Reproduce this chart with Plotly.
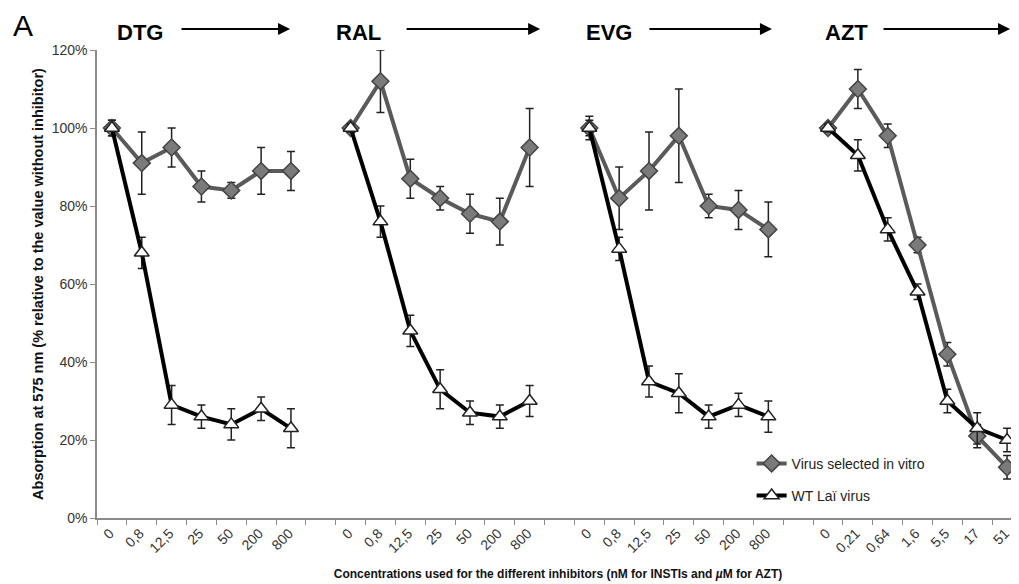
import plotly.graph_objects as go

# ---- data ----
groups = ["DTG", "RAL", "EVG", "AZT"]
conc_insti = ["0", "0,8", "12,5", "25", "50", "200", "800"]
conc_azt = ["0", "0,21", "0,64", "1,6", "5,5", "17", "51"]
tick_groups = [conc_insti, conc_insti, conc_insti, conc_azt]

sel_dtg = [100, 91, 95, 85, 84, 89, 89]
sel_dtg_err = [2, 8, 5, 4, 2, 6, 5]
sel_ral = [100, 112, 87, 82, 78, 76, 95]
sel_ral_err = [1, 8, 5, 3, 5, 6, 10]
sel_evg = [100, 82, 89, 98, 80, 79, 74]
sel_evg_err = [3, 8, 10, 12, 3, 5, 7]
sel_azt = [100, 110, 98, 70, 42, 21, 13]
sel_azt_err = [1, 5, 3, 2, 3, 3, 3]

wt_dtg = [100, 68, 29, 26, 24, 28, 23]
wt_dtg_err = [2, 4, 5, 3, 4, 3, 5]
wt_ral = [100, 76, 48, 33, 27, 26, 30]
wt_ral_err = [1, 4, 4, 5, 3, 3, 4]
wt_evg = [100, 69, 35, 32, 26, 29, 26]
wt_evg_err = [2, 3, 4, 5, 3, 3, 4]
wt_azt = [100, 93, 74, 58, 30, 23, 20]
wt_azt_err = [1, 4, 3, 2, 3, 4, 3]

sel_all = [sel_dtg, sel_ral, sel_evg, sel_azt]
sel_err_all = [sel_dtg_err, sel_ral_err, sel_evg_err, sel_azt_err]
wt_all = [wt_dtg, wt_ral, wt_evg, wt_azt]
wt_err_all = [wt_dtg_err, wt_ral_err, wt_evg_err, wt_azt_err]

# build positions: 7 points per group + 1 empty slot between groups
slot = 8
xs, sel_y, sel_e, wt_y, wt_e = [], [], [], [], []
tickvals, ticktext = [], []
for g in range(4):
    for i in range(7):
        x = g * slot + i
        xs.append(x)
        sel_y.append(sel_all[g][i]); sel_e.append(sel_err_all[g][i])
        wt_y.append(wt_all[g][i]); wt_e.append(wt_err_all[g][i])
        tickvals.append(x); ticktext.append(tick_groups[g][i])
    if g < 3:
        xs.append(g * slot + 7)
        sel_y.append(None); sel_e.append(None)
        wt_y.append(None); wt_e.append(None)

FONT = "Liberation Sans, Arial, Helvetica, sans-serif"

fig = go.Figure()
fig.add_trace(go.Scatter(
    x=xs, y=sel_y, mode="lines+markers", name="Virus selected in vitro",
    legendgroup="a",
    line=dict(color="#5a5a5a", width=4),
    marker=dict(symbol="diamond", size=13, color="#7a7a7a",
                line=dict(color="#444444", width=1.5)),
    error_y=dict(type="data", array=sel_e, visible=True, color="#222222",
                 thickness=1.5, width=4),
    connectgaps=False, cliponaxis=False,
))
fig.add_trace(go.Scatter(
    x=xs, y=wt_y, mode="lines+markers", name="WT Laï virus",
    legendgroup="b",
    line=dict(color="#000000", width=4),
    marker=dict(symbol="triangle-up", size=13, color="#ffffff",
                line=dict(color="#222222", width=1.5)),
    error_y=dict(type="data", array=wt_e, visible=True, color="#222222",
                 thickness=1.5, width=4),
    connectgaps=False, cliponaxis=False,
))

# group titles and arrows
title_x = [0.95, 8.28, 16.65, 24.62]
arrow_end = [5.97, 14.35, 22.12, 30.1]
arrow_len_px = [110, 135, 124, 128]
for g in range(4):
    fig.add_annotation(x=title_x[g], y=1.038, xref="x", yref="paper",
                       text="<b>" + groups[g] + "</b>", showarrow=False,
                       font=dict(family=FONT, size=22, color="#000"),
                       xanchor="center", yanchor="middle")
    fig.add_annotation(x=arrow_end[g], y=1.045, xref="x", yref="paper",
                       ax=-arrow_len_px[g], ay=0, axref="pixel", ayref="pixel",
                       text="", showarrow=True, arrowhead=2, arrowsize=1.2,
                       arrowwidth=2, arrowcolor="#000")

fig.add_annotation(x=-0.08, y=1.052, xref="paper", yref="paper", text="A",
                   showarrow=False, font=dict(family=FONT, size=30, color="#000"),
                   xanchor="center", yanchor="middle", borderpad=0)

# the page body adds an 8px offset; size the figure so the plot lands where the reference has it
fig.update_layout(
    width=1011, height=576,
    margin=dict(l=89, r=0, t=42, b=66, autoexpand=False),
    plot_bgcolor="white", paper_bgcolor="white",
    font=dict(family=FONT, size=14, color="#333"),
    showlegend=True,
    legend=dict(x=0.71, y=0.150, xanchor="left", yanchor="top",
                bgcolor="rgba(0,0,0,0)", font=dict(family=FONT, size=14, color="#222"),
                tracegroupgap=11, itemwidth=30),
    xaxis=dict(
        range=[-0.5, 30.4], showgrid=False, zeroline=False, automargin=False,
        showline=True, linecolor="#8a8a8a", linewidth=1.5,
        tickmode="array", tickvals=tickvals, ticktext=ticktext,
        tickangle=-45, ticks="", tickfont=dict(family=FONT, size=14, color="#333"),
        ticklabeloverflow="allow", ticklabelshift=-2,
        minor=dict(tickmode="linear", tick0=0.5, dtick=1, ticks="outside",
                   ticklen=5, tickcolor="#8a8a8a", tickwidth=1, showgrid=False),
        title=dict(text="<b>Concentrations used for the different inhibitors (nM for INSTIs and <i>µ</i>M for AZT)</b>",
                   font=dict(family=FONT, size=12, color="#111"), standoff=15),
    ),
    yaxis=dict(
        range=[0, 120], dtick=20, ticksuffix="%", showgrid=False, zeroline=False,
        automargin=False,
        showline=True, linecolor="#8a8a8a", linewidth=1.5,
        ticks="outside", ticklen=5, tickcolor="#8a8a8a",
        tickfont=dict(family=FONT, size=14, color="#333"),
        title=dict(text="<b>Absorption at 575 nm (% relative to the value without inhibitor)</b>",
                   font=dict(family=FONT, size=14.5, color="#111"), standoff=5),
    ),
)

fig.write_html("out.html")
